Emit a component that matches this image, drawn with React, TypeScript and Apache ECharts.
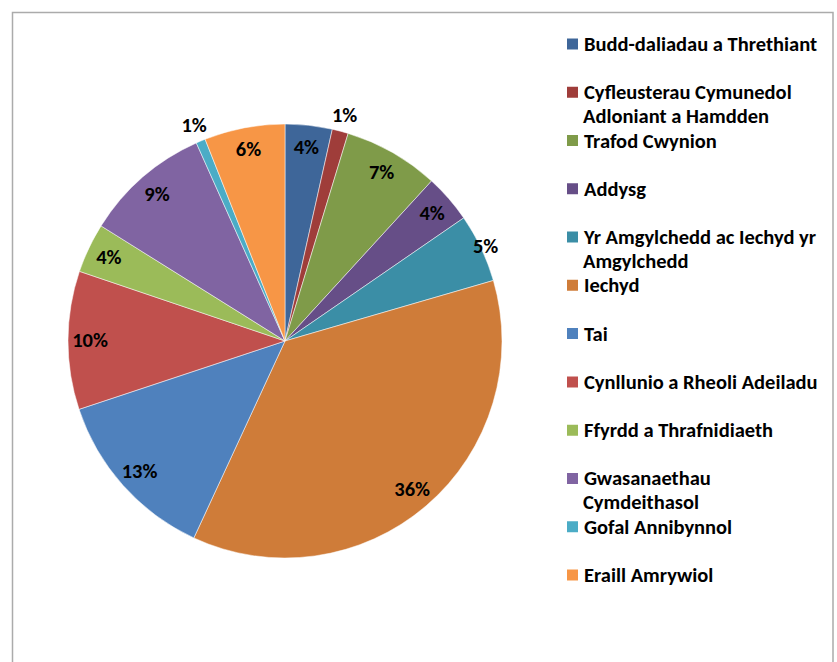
import React, { useEffect, useRef } from "react";
import * as echarts from "echarts";

const categories = [
  "Budd-daliadau a Threthiant",
  "Cyfleusterau Cymunedol Adloniant a Hamdden",
  "Trafod Cwynion",
  "Addysg",
  "Yr Amgylchedd ac Iechyd yr Amgylchedd",
  "Iechyd",
  "Tai",
  "Cynllunio a Rheoli Adeiladu",
  "Ffyrdd a Thrafnidiaeth",
  "Gwasanaethau Cymdeithasol",
  "Gofal Annibynnol",
  "Eraill Amrywiol",
];

// legend lines as wrapped in the reference
const legendLines = [
  ["Budd-daliadau a Threthiant"],
  ["Cyfleusterau Cymunedol", "Adloniant a Hamdden"],
  ["Trafod Cwynion"],
  ["Addysg"],
  ["Yr Amgylchedd ac Iechyd yr", "Amgylchedd"],
  ["Iechyd"],
  ["Tai"],
  ["Cynllunio a Rheoli Adeiladu"],
  ["Ffyrdd a Thrafnidiaeth"],
  ["Gwasanaethau", "Cymdeithasol"],
  ["Gofal Annibynnol"],
  ["Eraill Amrywiol"],
];

// percentage shares
const values = [3.5, 1.2, 7.1, 3.6, 5.1, 36.4, 13.0, 10.3, 3.7, 9.4, 0.7, 6.0];

const colors = [
  "#3E6699",
  "#9F3D3A",
  "#7F9B49",
  "#664E87",
  "#3B8EA6",
  "#CF7C39",
  "#4F81BD",
  "#C0504D",
  "#9BBB59",
  "#8064A2",
  "#4BACC6",
  "#F79646",
];

// where each label sits: "in" near the rim inside, "edge" on the rim, "out" just outside
const labelPlacement = ["in", "out", "in", "in", "edge", "in", "in", "in", "in", "in", "out", "in"];

const FONT = "Carlito, Lato";
const FS = 20.5;
const LH = 24;
const CX = 285;
const CY = 341;
const R = 217;
const LEG_TOP = 32;
const LEG_STEP = 48.27;

export default function App() {
  const ref = useRef<HTMLDivElement>(null);

  useEffect(() => {
    if (!ref.current) return;
    const chart = echarts.init(ref.current, undefined, { renderer: "svg" });

    const labelSeries = (placement: string, radius: [number, number]) => ({
      type: "pie",
      silent: true,
      center: [CX, CY],
      radius,
      startAngle: 90,
      clockwise: true,
      avoidLabelOverlap: false,
      labelLine: { show: false },
      itemStyle: { color: "transparent", borderWidth: 0 },
      label: {
        position: "inside",
        fontFamily: FONT,
        fontWeight: "bold",
        fontSize: FS,
        color: "#000",
        formatter: (p: any) => Math.round(p.percent) + "%",
      },
      data: categories.map((name, i) => ({
        name,
        value: values[i],
        label: { show: labelPlacement[i] === placement },
      })),
    });

    const graphics: any[] = [
      {
        type: "rect",
        z: -10,
        shape: { x: 12.5, y: 12.5, width: 820.5, height: 700 },
        style: { fill: "none", stroke: "#ababab", lineWidth: 1.5 },
      },
    ];
    legendLines.forEach((lines, i) => {
      lines.slice(1).forEach((line, j) => {
        graphics.push({
          type: "text",
          x: 583,
          y: LEG_TOP + LH / 2 + i * LEG_STEP + 23.5 * (j + 1),
          style: {
            text: line,
            fontFamily: FONT,
            fontWeight: "bold",
            fontSize: FS,
            fill: "#000",
            verticalAlign: "middle",
            align: "left",
          },
        });
      });
    });

    chart.setOption({
      animation: false,
      backgroundColor: "#ffffff",
      legend: {
        orient: "vertical",
        left: 565,
        top: LEG_TOP,
        padding: 0,
        itemWidth: 13,
        itemHeight: 13,
        itemGap: LEG_STEP - LH,
        icon: "rect",
        selectedMode: false,
        data: categories,
        formatter: (name: string) => legendLines[categories.indexOf(name)][0],
        textStyle: {
          fontFamily: FONT,
          fontWeight: "bold",
          fontSize: FS,
          lineHeight: LH,
          color: "#000",
        },
      },
      graphic: graphics,
      series: [
        {
          type: "pie",
          silent: true,
          center: [CX, CY],
          radius: R,
          startAngle: 90,
          clockwise: true,
          label: { show: false },
          labelLine: { show: false },
          itemStyle: { borderColor: "#ffffff", borderWidth: 0.5 },
          data: categories.map((name, i) => ({
            name,
            value: values[i],
            itemStyle: { color: colors[i] },
          })),
        },
        labelSeries("in", [170, 214]),
        labelSeries("edge", [200, 238]),
        labelSeries("out", [213, 249]),
      ],
    });

    return () => chart.dispose();
  }, []);

  return (
    <div
      ref={ref}
      style={{ position: "fixed", left: 0, top: 0, width: 837, height: 662 }}
    />
  );
}
